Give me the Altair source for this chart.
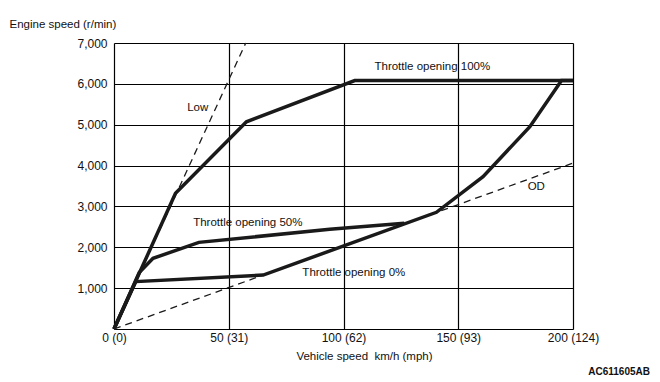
import altair as alt
import pandas as pd

# Axis ticks and labels
speed_ticks = [0, 50, 100, 150, 200]
speed_tick_labels = ["0 (0)", "50 (31)", "100 (62)", "150 (93)", "200 (124)"]
rpm_ticks = [0, 1000, 2000, 3000, 4000, 5000, 6000, 7000]
rpm_tick_labels = ["", "1,000", "2,000", "3,000", "4,000", "5,000", "6,000", "7,000"]

# Gear ratio lines (dashed)
low_speed = [0, 57.4]
low_rpm = [0, 7000]
od_speed = [0, 200]
od_rpm = [0, 4060]

# Shift pattern lines (thick)
t100_speed = [0, 26.8, 57.7, 104.9, 200]
t100_rpm = [0, 3320, 5070, 6080, 6080]
t50_speed = [0, 11, 17, 37, 94, 126.5]
t50_rpm = [0, 1380, 1730, 2120, 2440, 2590]
t0_speed = [0, 9.5, 65, 140.5, 160.8, 181.2, 195, 200]
t0_rpm = [0, 1160, 1320, 2856, 3727, 4951, 6080, 6080]

# Annotations
ann_text = ["Low", "Throttle opening 100%", "Throttle opening 50%", "Throttle opening 0%", "OD"]
ann_speed = [36.5, 138.7, 58.3, 104.5, 184]
ann_rpm = [5410, 6410, 2590, 1360, 3470]
caption = "AC611605AB"


def long_form(series):
    rows = []
    for name, xs, ys in series:
        for i, (xv, yv) in enumerate(zip(xs, ys)):
            rows.append({"series": name, "order": i, "speed": xv, "rpm": yv})
    return pd.DataFrame(rows)


solid_df = long_form([
    ("100%", t100_speed, t100_rpm),
    ("50%", t50_speed, t50_rpm),
    ("0%", t0_speed, t0_rpm),
])
dashed_df = long_form([
    ("Low", low_speed, low_rpm),
    ("OD", od_speed, od_rpm),
])
ann_df = pd.DataFrame({"text": ann_text, "speed": ann_speed, "rpm": ann_rpm})


def label_expr(values, labels):
    expr = "''"
    for v, l in reversed(list(zip(values, labels))):
        expr = f"datum.value == {v} ? '{l}' : ({expr})"
    return expr


FONT = "Liberation Sans"

x_enc = alt.X(
    "speed:Q",
    scale=alt.Scale(domain=[0, 200], nice=False, zero=False),
    axis=alt.Axis(
        values=speed_ticks,
        labelExpr=label_expr(speed_ticks, speed_tick_labels),
        title="Vehicle speed\u00a0 km/h (mph)",
        grid=True, gridColor="black", gridWidth=1.2, gridOpacity=1,
        ticks=False, domain=False,
        labelPadding=3, labelFontSize=12, labelColor="#111", labelFont=FONT,
        labelFlush=False,
        titleFont=FONT, titleFontSize=11.5, titleFontWeight="normal", titleColor="#111",
        titleX=250, titleY=27, titleBaseline="middle",
    ),
)
y_enc = alt.Y(
    "rpm:Q",
    scale=alt.Scale(domain=[0, 7000], nice=False),
    axis=alt.Axis(
        values=rpm_ticks,
        labelExpr=label_expr(rpm_ticks, rpm_tick_labels),
        title="Engine speed (r/min)",
        grid=True, gridColor="black", gridWidth=1.2, gridOpacity=1,
        ticks=False, domain=False,
        labelPadding=7, labelFontSize=12, labelColor="#111", labelFont=FONT,
        labelFlush=False,
        titleFont=FONT, titleFontSize=11.5, titleFontWeight="normal", titleColor="#111",
        titleAngle=0, titleAlign="left", titleBaseline="middle",
        titleX=-105, titleY=-19,
    ),
)

solid = alt.Chart(solid_df).mark_line(
    strokeWidth=3.5, color="#1a1a1a", strokeJoin="miter", strokeCap="butt"
).encode(x=x_enc, y=y_enc, detail="series:N", order="order:Q")

dashed = alt.Chart(dashed_df).mark_line(
    strokeWidth=1.3, color="#1a1a1a", strokeDash=[7, 5]
).encode(x=x_enc, y=y_enc, detail="series:N", order="order:Q")

labels = alt.Chart(ann_df).mark_text(
    font=FONT, fontSize=11.5, color="#111", align="center", baseline="middle"
).encode(x=x_enc, y=y_enc, text="text:N")

cap = alt.Chart(pd.DataFrame({"t": [caption]})).mark_text(
    font=FONT, fontSize=10, fontWeight="bold", color="#111", align="right", baseline="middle"
).encode(x=alt.value(536), y=alt.value(329), text="t:N")

chart = alt.layer(solid, dashed, labels, cap).properties(
    width=459, height=286,
    autosize=alt.AutoSizeParams(type="none"),
    padding={"left": 106, "top": 35, "right": 78, "bottom": 51},
).configure_view(stroke="black", strokeWidth=1.3).configure(background="white")

chart.save("out.html", embed_options={"renderer": "svg", "actions": False})
